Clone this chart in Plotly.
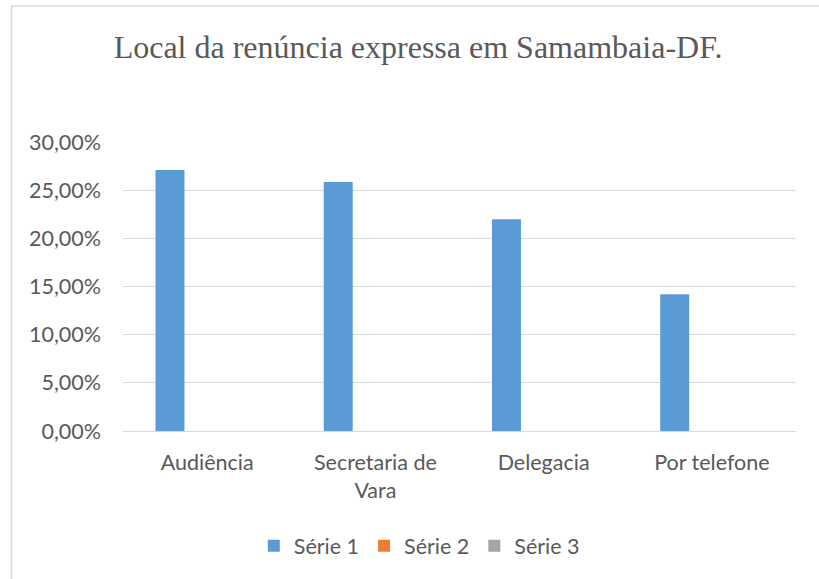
import plotly.graph_objects as go

categories = ["Audiência", "Secretaria de<br>Vara", "Delegacia", "Por telefone"]
serie1 = [0.271, 0.2585, 0.2198, 0.142]
serie2 = [0, 0, 0, 0]
serie3 = [0, 0, 0, 0]
series_names = ["Série 1", "Série 2", "Série 3"]
colors = ["#5b9bd5", "#ed7d31", "#a5a5a5"]
y_ticks = [0, 0.05, 0.10, 0.15, 0.20, 0.25, 0.30]

W, H = 819, 579
L, R, T, B = 122.5, 796, 141.7, 431
cat_w = (R - L) / 4
bw = 29 / cat_w
off0 = (155 - (L + cat_w / 2)) / cat_w
FS = 21.5

fig = go.Figure()
for i, (name, vals) in enumerate(zip(series_names, [serie1, serie2, serie3])):
    fig.add_trace(go.Bar(
        x=categories, y=vals, name=name,
        marker=dict(color=colors[i], line=dict(width=0)),
        width=bw, offset=off0 + i * bw,
    ))

fig.update_layout(
    width=W, height=H,
    margin=dict(l=L, r=W - R, t=T, b=H - B, pad=0),
    paper_bgcolor="white", plot_bgcolor="white",
    separators=",.",
    barmode="group",
    title=dict(text="Local da renúncia expressa em Samambaia-DF.",
               font=dict(family="Liberation Serif", size=32, color="#595959"),
               x=418 / W, xanchor="center", y=1 - 47 / H, yanchor="middle"),
    font=dict(family="Lato", size=FS, color="#595959"),
    yaxis=dict(range=[0, 0.30], tickvals=y_ticks, tickformat=".2%",
               showgrid=True, gridcolor="#d9d9d9", gridwidth=1,
               zeroline=False, showline=False, ticks="", ticklen=0,
               ticklabelstandoff=21,
               tickfont=dict(family="Lato", size=FS, color="#595959")),
    xaxis=dict(showgrid=False, zeroline=False, showline=True, linecolor="#d9d9d9",
               linewidth=1, ticks="", ticklabelstandoff=12,
               tickfont=dict(family="Lato", size=FS, color="#595959"),
               range=[-0.5, 3.5]),
    legend=dict(orientation="h", x=(419 - L) / (R - L), xanchor="center",
                y=(B - 546) / (B - T), yanchor="middle",
                font=dict(family="Lato", size=FS, color="#595959"),
                itemwidth=30, tracegroupgap=0, itemclick=False),
    showlegend=True,
)

# chart border (Excel chart area frame)
fig.add_shape(type="rect", xref="paper", yref="paper",
              x0=(11 - L) / (R - L), x1=(900 - L) / (R - L),
              y0=(B - 700) / (B - T), y1=(B - 5.5) / (B - T),
              line=dict(color="#d9d9d9", width=1.5), fillcolor="rgba(0,0,0,0)", layer="below")

fig.write_html("out.html", config={"displayModeBar": False},
               post_script="document.body.style.margin='0';")
